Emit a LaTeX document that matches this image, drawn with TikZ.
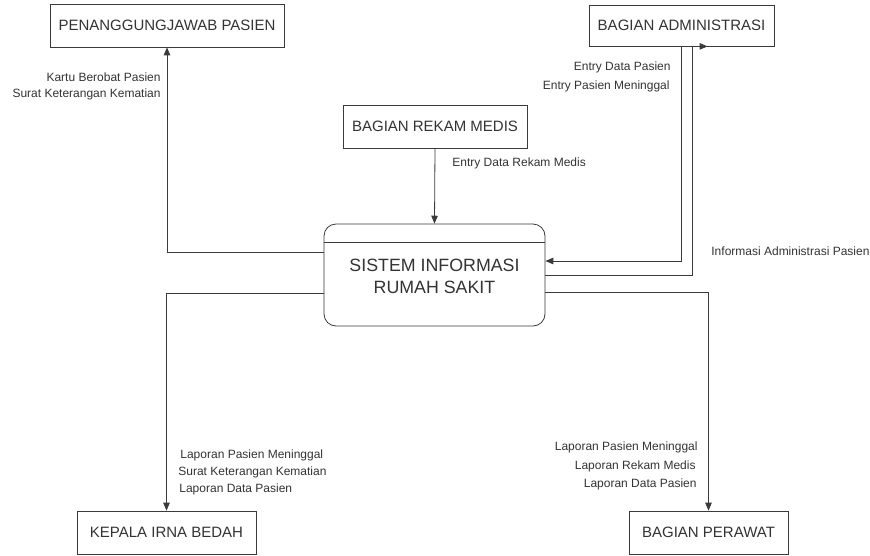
\documentclass[tikz,border=0pt]{standalone}
\usepackage{fontspec}
\setmainfont{Liberation Sans}
\usetikzlibrary{arrows}
\definecolor{garis}{HTML}{3A3A3A}
\definecolor{teks}{HTML}{333333}

\begin{document}
\begin{tikzpicture}[x=1pt,y=-1pt,->,>=triangle 45,draw=garis,text=teks,thick]
		\tikzstyle{entitas}=[rectangle,draw=garis,fill=white,font=\fontsize{15}{18}\selectfont,inner sep=0pt]
		\tikzstyle{proses}=[rectangle,rounded corners=12pt,draw=garis,fill=white,align=center,font=\fontsize{17.8}{22}\selectfont,inner sep=0pt]
		\tikzstyle{aliran}=[font=\fontsize{12}{14}\selectfont,inner sep=0pt]
		\useasboundingbox (0,0) rectangle (870,555);

		\node[entitas,minimum width=234pt,minimum height=43pt] (pj) at (167,25.5) {PENANGGUNGJAWAB PASIEN};
		\node[entitas,minimum width=185pt,minimum height=41pt] (admin) at (681.5,25.5) {BAGIAN ADMINISTRASI};
		\node[entitas,minimum width=184pt,minimum height=43pt] (rekam) at (435,126.5) {BAGIAN REKAM MEDIS};
		\node[proses,minimum width=221pt,minimum height=102pt] (sirs) at (434.5,275) {\\[-6pt]SISTEM INFORMASI\\RUMAH SAKIT};
		\node[entitas,minimum width=179pt,minimum height=43pt] (kepala) at (166.5,532.5) {KEPALA IRNA BEDAH};
		\node[entitas,minimum width=159pt,minimum height=43pt] (perawat) at (708.5,532.5) {BAGIAN PERAWAT};

		\draw[-] ([yshift=-19pt]sirs.north west) -- ([yshift=-19pt]sirs.north east);

		\draw ([yshift=23pt]sirs.west) -| (pj.south);
		\draw (rekam.south) -- (sirs.north);
		\draw (admin.south) |- ([yshift=14pt]sirs.east);
		\draw (sirs.east) -| ([xshift=10.5pt]admin.south) -- ([xshift=26pt]admin.south);
		\draw ([yshift=-18pt]sirs.west) -| (kepala.north);
		\draw ([yshift=-17pt]sirs.east) -| (perawat.north);

		\node[aliran,anchor=east] (l1) at (161,77) {Kartu Berobat Pasien};
		\node[aliran,anchor=east] (l2) at (161,94) {Surat Keterangan Kematian};
		\node[aliran,anchor=east] (l3) at (671,67) {Entry Data Pasien};
		\node[aliran,anchor=east] (l4) at (670,86) {Entry Pasien Meninggal};
		\node[aliran,anchor=west] (l5) at (452,163) {Entry Data Rekam Medis};
		\node[aliran,anchor=west] (l6) at (711,251) {Informasi Administrasi Pasien};
		\node[aliran,anchor=west] (l7) at (180,455) {Laporan Pasien Meninggal};
		\node[aliran,anchor=west] (l8) at (178,472) {Surat Keterangan Kematian};
		\node[aliran,anchor=west] (l9) at (179,489) {Laporan Data Pasien};
		\node[aliran,anchor=east] (l10) at (698,447) {Laporan Pasien Meninggal};
		\node[aliran,anchor=east] (l11) at (696,466) {Laporan Rekam Medis};
		\node[aliran,anchor=east] (l12) at (697,484) {Laporan Data Pasien};
\end{tikzpicture}
\end{document}
